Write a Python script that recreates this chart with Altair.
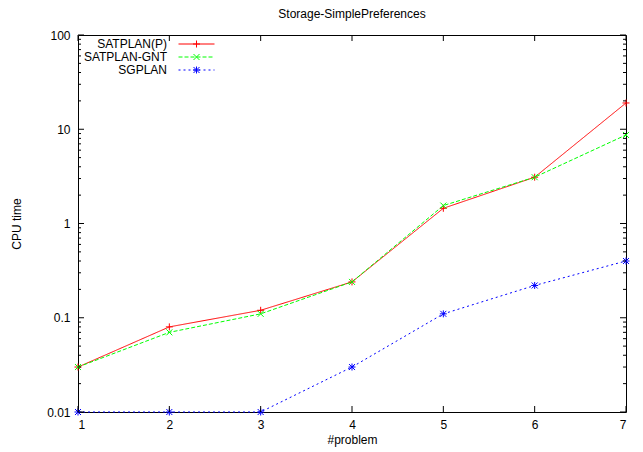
import altair as alt
import pandas as pd

# ---------------- data ----------------
problems = [1, 2, 3, 4, 5, 6, 7]
satplan_p = [0.03, 0.08, 0.12, 0.24, 1.45, 3.1, 19.0]
satplan_gnt = [0.03, 0.07, 0.11, 0.24, 1.55, 3.1, 8.7]
sgplan = [0.01, 0.01, 0.01, 0.03, 0.11, 0.22, 0.40]
series_names = ["SATPLAN(P)", "SATPLAN-GNT", "SGPLAN"]

y_major = [0.01, 0.1, 1, 10, 100]
y_minor = [0.02, 0.03, 0.04, 0.05, 0.06, 0.07, 0.08, 0.09,
           0.2, 0.3, 0.4, 0.5, 0.6, 0.7, 0.8, 0.9,
           2, 3, 4, 5, 6, 7, 8, 9,
           20, 30, 40, 50, 60, 70, 80, 90]
x_ticks = problems

# ---------------- style ----------------
FONT = "Liberation Sans"
W, H = 548, 377
MAJ, MIN = 6, 3
colors = ["#ff0000", "#00ff00", "#0000ff"]
dashes = [[1, 0], [4, 2], [2, 3]]


def plus(cx=0.0):
    return f"M{cx-3.5},0H{cx+3.5}M{cx},-3.5V3.5"


def cross(cx=0.0):
    return f"M{cx-3},-3L{cx+3},3M{cx-3},3L{cx+3},-3"


def star(cx=0.0):
    return plus(cx) + cross(cx)


markers = [plus(), cross(), star()]


def dash_path(on, off, x0, x1):
    if off == 0:
        return f"M{x0},0H{x1}"
    parts, x = [], x0
    while x < x1:
        parts.append(f"M{x},0H{min(x + on, x1)}")
        x += on + off
    return "".join(parts)


# legend sample: line 36 px long, placed to the right of the right-aligned label
SHIFT = 35.5
legend_paths = [dash_path(d[0], d[1], SHIFT - 18, SHIFT + 18) + m(SHIFT)
                for d, m in zip(dashes, [plus, cross, star])]

df = pd.DataFrame({
    "problem": problems * 3,
    "time": satplan_p + satplan_gnt + sgplan,
    "series": [s for s in series_names for _ in problems],
})

yscale = alt.Scale(type="log", domain=[0.01, 100], nice=False)
xscale = alt.Scale(domain=[1, 7], nice=False, zero=False)
cscale = alt.Scale(domain=series_names, range=colors)

axis_style = dict(labelFont=FONT, labelFontSize=12, labelColor="black",
                  titleFont=FONT, titleFontSize=12, titleColor="black",
                  titleFontWeight="normal", ticks=False, tickSize=0,
                  domain=False, grid=False)
x_axis = alt.Axis(values=x_ticks, format="d", title="#problem",
                  labelPadding=7, titlePadding=4, **axis_style)
y_axis = alt.Axis(values=y_major, format="~g", title="CPU time",
                  labelPadding=8, titlePadding=23, **axis_style)

x_enc = alt.X("problem:Q", scale=xscale, axis=x_axis, title="#problem")
y_enc = alt.Y("time:Q", scale=yscale, axis=y_axis, title="CPU time")

lines = alt.Chart(df).mark_line(strokeWidth=1).encode(
    x=x_enc, y=y_enc,
    color=alt.Color("series:N", scale=cscale, legend=None),
    strokeDash=alt.StrokeDash("series:N",
                              scale=alt.Scale(domain=series_names, range=dashes),
                              legend=None),
)

points = alt.Chart(df).mark_point(filled=False, size=4, strokeWidth=1, opacity=1).encode(
    x=x_enc, y=y_enc,
    color=alt.Color("series:N", scale=cscale, legend=None),
    shape=alt.Shape("series:N", scale=alt.Scale(domain=series_names, range=markers),
                    legend=None),
)

leg = alt.Legend(title=None, orient="none", legendX=77, legendY=3,
                 labelAlign="right", labelOffset=0, symbolSize=4,
                 symbolStrokeWidth=1, padding=0, rowPadding=1,
                 labelFont=FONT, labelFontSize=12, labelColor="black",
                 symbolOpacity=1, symbolFillColor="transparent")

legend_layer = alt.Chart(df).transform_filter("datum.problem < 0").mark_point(
    filled=False, size=4, strokeWidth=1).encode(
    x=x_enc, y=y_enc,
    color=alt.Color("series:N", scale=cscale, legend=leg),
    shape=alt.Shape("series:N",
                    scale=alt.Scale(domain=series_names, range=legend_paths),
                    legend=leg),
)


def yticks(vals, x0, x1):
    return alt.Chart(pd.DataFrame({"v": vals})).mark_rule(
        color="black", strokeWidth=1).encode(
        y=alt.Y("v:Q", scale=yscale, axis=y_axis, title="CPU time"),
        x=alt.value(x0), x2=alt.value(x1))


def xticks(vals, y0, y1):
    return alt.Chart(pd.DataFrame({"v": vals})).mark_rule(
        color="black", strokeWidth=1).encode(
        x=alt.X("v:Q", scale=xscale, axis=x_axis, title="#problem"),
        y=alt.value(y0), y2=alt.value(y1))


tick_layers = [
    yticks(y_major, 0, MAJ), yticks(y_minor, 0, MIN),
    yticks(y_major, W - MAJ, W), yticks(y_minor, W - MIN, W),
    xticks(x_ticks, H - MAJ, H), xticks(x_ticks, 0, MAJ),
]

chart = alt.layer(lines, points, legend_layer, *tick_layers).resolve_scale(
    color="independent", shape="independent", strokeDash="independent"
).properties(
    width=W, height=H,
    title=alt.Title("Storage-SimplePreferences", fontSize=12, fontWeight="normal",
                    font=FONT, color="black", anchor="middle", offset=8),
    autosize=alt.AutoSizeParams(type="none"),
    padding={"left": 78, "top": 35, "right": 17, "bottom": 40},
    background="white",
).configure_view(
    stroke="black", strokeWidth=1
)

chart.save("out.html", embed_options={"renderer": "svg", "actions": False})
